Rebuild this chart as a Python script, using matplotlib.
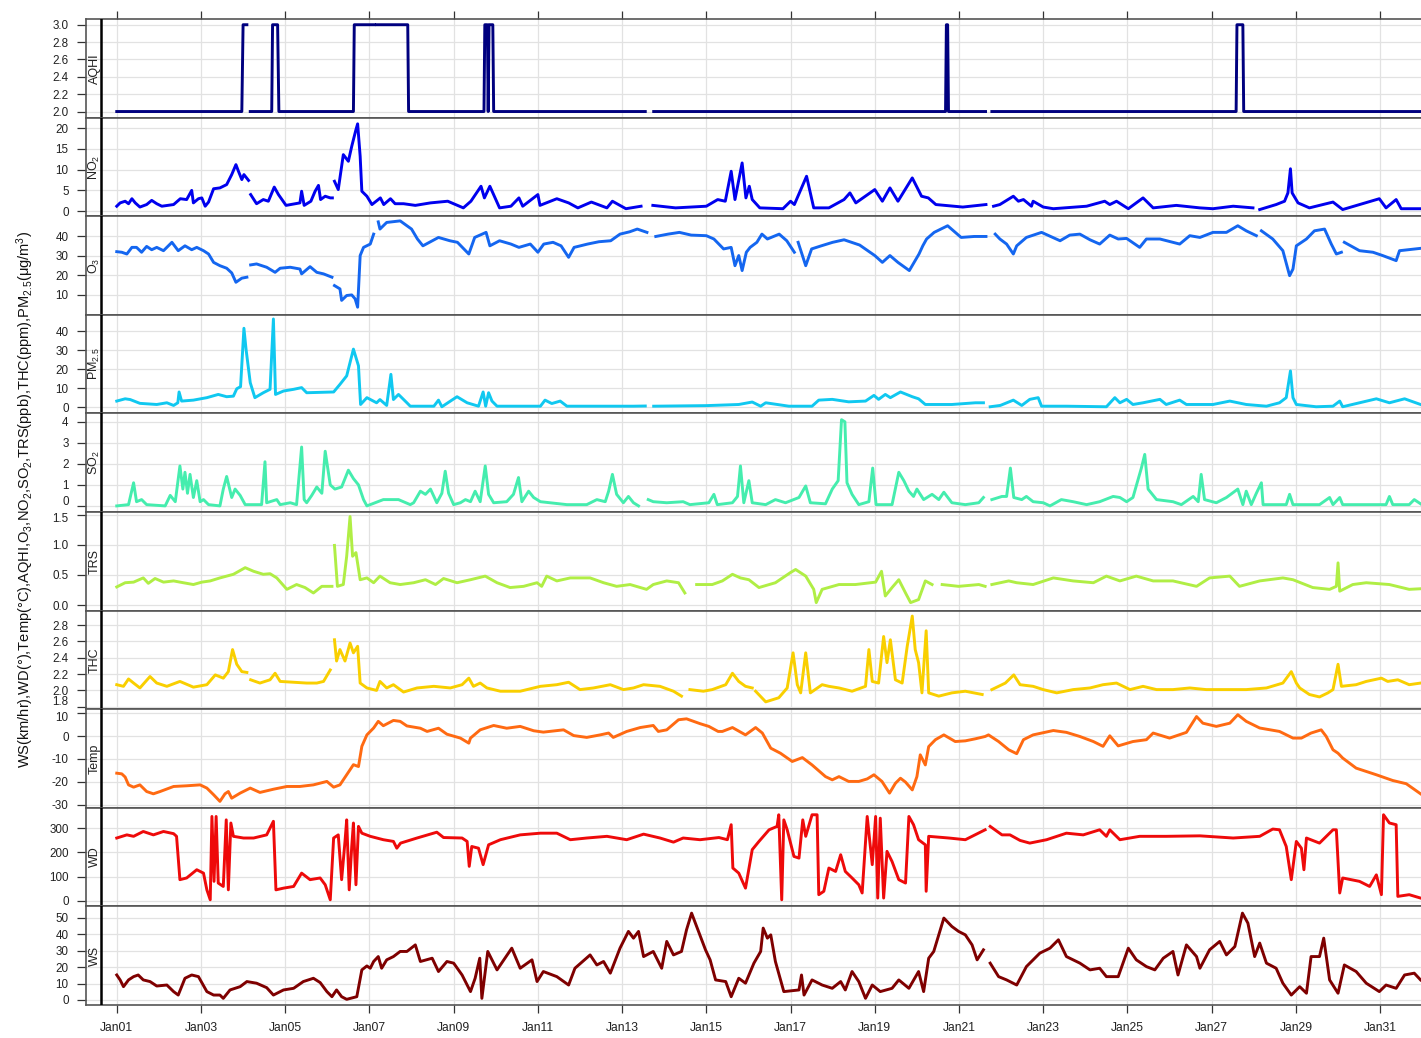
import numpy as np
import matplotlib as mpl
mpl.use('Agg')
import matplotlib.pyplot as plt
from matplotlib.transforms import ScaledTranslation

plt.rcParams['font.family'] = ['Liberation Sans', 'DejaVu Sans']
plt.rcParams['mathtext.default'] = 'regular'

# readings as (day of January, value); None = missing hours
aqhi = [(1.0, 2), (3.97, 2), (4.0, 3), (4.09, 3), (4.13, None), (4.17, 2), (4.68, 2), (4.70, 3),
        (4.82, 3), (4.85, 2), (6.62, 2), (6.64, 3), (7.12, 3), (7.15, None), (7.18, 3), (7.91, 3),
        (7.93, 2), (9.72, 2), (9.74, 3), (9.80, 3), (9.82, 2), (9.84, 3), (9.93, 3), (9.95, 2),
        (13.55, 2), (13.65, None), (13.75, 2), (20.68, 2), (20.70, 3), (20.73, 3), (20.75, 2),
        (21.63, 2), (21.70, None), (21.78, 2), (27.58, 2), (27.60, 3), (27.74, 3), (27.76, 2),
        (31.97, 2)]

no2 = [(1.0, 1.2), (1.08, 2), (1.2, 2.4), (1.28, 1.8), (1.36, 3), (1.44, 2), (1.55, 1), (1.71, 1.6),
       (1.83, 2.6), (1.95, 1.8), (2.07, 1.2), (2.35, 1.6), (2.51, 3), (2.66, 2.8), (2.78, 5), (2.82, 2),
       (2.94, 3), (3.02, 3.2), (3.10, 1.2), (3.18, 2.2), (3.30, 5.4), (3.45, 5.6), (3.61, 6.4),
       (3.73, 8.8), (3.83, 11.2), (3.89, 9.6), (3.97, 7.6), (4.02, 8.8), (4.13, 7.4), (4.15, None),
       (4.18, 4), (4.32, 1.8), (4.48, 2.8), (4.60, 2.4), (4.74, 5.8), (4.84, 4), (5.02, 1.4),
       (5.24, 1.8), (5.35, 2), (5.39, 4.8), (5.45, 1.4), (5.61, 2.4), (5.71, 4.8), (5.79, 6.2),
       (5.84, 2.8), (5.95, 3.6), (6.07, 3.2), (6.12, 3.2), (6.14, None), (6.17, 7.2), (6.26, 5.2),
       (6.38, 13.6), (6.50, 12), (6.58, 15.6), (6.68, 19.6), (6.72, 21), (6.78, 13.2), (6.82, 4.8),
       (6.94, 3.6), (7.06, 1.6), (7.26, 3.2), (7.34, 1.6), (7.50, 3), (7.61, 1.8), (7.81, 1.8),
       (8.09, 1.4), (8.45, 2), (8.86, 2.4), (9.0, 1.8), (9.23, 0.8), (9.41, 2.4), (9.65, 6),
       (9.73, 3.2), (9.86, 6), (10.09, 0.8), (10.36, 1.2), (10.55, 3.2), (10.64, 1.2), (11.0, 4),
       (11.05, 1.4), (11.45, 3), (11.73, 2), (11.95, 0.8), (12.27, 2.2), (12.64, 0.8), (12.77, 2.4),
       (13.09, 0.6), (13.45, 1.2), (13.6, None), (13.73, 1.4), (14.27, 0.8), (15.0, 1.2),
       (15.27, 2.8), (15.45, 2.4), (15.59, 9.6), (15.68, 2.8), (15.85, 11.6), (15.94, 3.2),
       (16.02, 6), (16.09, 2.8), (16.27, 0.8), (16.82, 0.6), (17.0, 2.4), (17.09, 1.6), (17.38, 8.4),
       (17.55, 0.8), (17.91, 0.8), (18.27, 2.8), (18.41, 4.4), (18.55, 2), (19.0, 5.2), (19.18, 2.4),
       (19.36, 5.6), (19.55, 2.4), (19.89, 8), (20.11, 3.6), (20.27, 3.2), (20.45, 1.6), (21.09, 1),
       (21.64, 1.6), (21.72, None), (21.82, 1.2), (21.97, 1.6), (22.29, 3.6), (22.41, 2.4),
       (22.53, 2.8), (22.72, 1.2), (22.76, 2.4), (23.0, 1), (23.24, 0.6), (24.03, 1.2), (24.46, 2.4),
       (24.58, 1.6), (24.74, 2.4), (25.02, 0.6), (25.37, 3.2), (25.61, 0.8), (26.16, 1.4),
       (26.72, 0.8), (27.03, 0.6), (27.51, 1.2), (27.98, 0.8), (28.06, None), (28.14, 0.4),
       (28.53, 1.6), (28.73, 2.4), (28.81, 4.4), (28.87, 10.2), (28.91, 4.4), (29.05, 2),
       (29.32, 0.8), (29.88, 2.2), (30.11, 0.4), (30.51, 1.6), (30.98, 3), (31.14, 0.8), (31.38, 2.8),
       (31.5, 0.6), (31.96, 0.6)]

o3 = [(1.0, 32), (1.12, 31.7), (1.24, 30.8), (1.36, 34.2), (1.47, 34.2), (1.59, 31.7), (1.71, 34.7),
      (1.83, 33), (1.95, 34.2), (2.11, 32.5), (2.31, 36.8), (2.46, 32.5), (2.62, 35), (2.78, 33),
      (2.90, 34.2), (3.06, 32.5), (3.18, 30.8), (3.30, 26.5), (3.45, 24.8), (3.61, 23.5), (3.73, 21.1),
      (3.83, 16.3), (3.97, 18.4), (4.09, 18.9), (4.14, None), (4.18, 25.2), (4.32, 25.7), (4.56, 24),
      (4.76, 21.4), (4.88, 23.5), (5.12, 24), (5.35, 23.1), (5.39, 20.6), (5.59, 24.3), (5.75, 21.4),
      (5.91, 20.6), (6.11, 18.9), (6.14, None), (6.17, 14.6), (6.30, 12.9), (6.34, 7), (6.46, 9.5),
      (6.58, 9.8), (6.66, 7.8), (6.72, 3.5), (6.78, 30), (6.86, 34.2), (7.02, 35.9), (7.10, 41),
      (7.15, None), (7.21, 47.3), (7.25, 43.6), (7.41, 47), (7.73, 47.8), (8.0, 43.6), (8.14, 38.5),
      (8.27, 35), (8.64, 39.3), (8.91, 37.6), (9.09, 36.8), (9.36, 30.8), (9.5, 39.3), (9.77, 41.9),
      (9.86, 35), (10.09, 37.6), (10.36, 35.9), (10.55, 34.2), (10.82, 35.9), (11.0, 31.7),
      (11.14, 35.9), (11.36, 36.8), (11.55, 35), (11.73, 29.1), (11.86, 34.2), (12.18, 35.9),
      (12.45, 37.1), (12.73, 37.6), (12.95, 41), (13.18, 42.2), (13.36, 43.6), (13.59, 41.9),
      (13.7, None), (13.8, 39.8), (14.09, 41), (14.36, 41.9), (14.64, 40.5), (15.0, 40.2),
      (15.18, 38.5), (15.41, 33.4), (15.59, 34.2), (15.68, 24.8), (15.77, 30), (15.85, 22.3),
      (15.95, 31.7), (16.04, 34.2), (16.2, 36.8), (16.32, 41), (16.45, 38.5), (16.73, 41),
      (16.91, 37.6), (17.09, 31.7), (17.13, None), (17.18, 36.8), (17.36, 24.8), (17.5, 33.4),
      (17.73, 35), (18.0, 36.8), (18.27, 38.1), (18.64, 35.4), (19.0, 30), (19.18, 26.5), (19.36, 30),
      (19.55, 26.5), (19.82, 22.3), (20.05, 30.8), (20.14, 35), (20.23, 38.5), (20.41, 41.9),
      (20.73, 45.3), (21.05, 39.3), (21.36, 39.8), (21.64, 39.8), (21.75, None), (21.86, 41),
      (21.97, 38.5), (22.13, 35.9), (22.29, 30.8), (22.37, 35), (22.6, 39.3), (22.96, 41.9),
      (23.4, 37.6), (23.63, 40.5), (23.87, 41), (24.11, 38.1), (24.34, 35.9), (24.58, 40.5),
      (24.78, 38.5), (24.98, 38.8), (25.29, 34.2), (25.45, 38.5), (25.77, 38.5), (26.24, 35.9),
      (26.48, 40.2), (26.72, 39.3), (27.03, 41.9), (27.35, 41.9), (27.62, 45.3), (27.82, 42.7),
      (28.06, 40.2), (28.12, None), (28.18, 42.7), (28.45, 38.5), (28.69, 32.5), (28.85, 19.7),
      (28.93, 23.1), (29.01, 35), (29.25, 38.5), (29.44, 42.7), (29.68, 43.6), (29.84, 35.9),
      (29.96, 30.8), (30.08, 31.7), (30.11, None), (30.15, 36.8), (30.51, 32.5), (30.83, 31.7),
      (31.06, 30), (31.38, 27.4), (31.46, 32.5), (31.96, 33.7)]

pm25 = [(1.0, 3.2), (1.2, 4.4), (1.32, 4), (1.55, 2), (1.95, 1.4), (2.19, 2.3), (2.35, 0.9),
        (2.45, 2.3), (2.48, 8), (2.54, 3.2), (2.82, 3.7), (3.14, 5), (3.41, 6.7), (3.61, 5.5),
        (3.77, 5.8), (3.85, 9.7), (3.94, 10.8), (4.02, 41.6), (4.07, 30.6), (4.17, 12.9), (4.28, 5),
        (4.48, 7.6), (4.64, 9.4), (4.72, 46.5), (4.77, 6.7), (4.96, 8.5), (5.2, 9.4), (5.39, 10.3),
        (5.51, 7.6), (6.15, 8), (6.3, 12), (6.46, 16.5), (6.62, 30.6), (6.74, 21.8), (6.79, 1.4),
        (6.94, 5), (7.17, 2.3), (7.25, 4), (7.41, 0.9), (7.51, 17.3), (7.57, 4), (7.69, 6.7),
        (7.89, 2.3), (7.97, 0.5), (8.53, 0.5), (8.64, 3.7), (8.72, 0.2), (9.08, 5.5), (9.32, 2.3),
        (9.59, 0.5), (9.70, 8), (9.76, 0.5), (9.83, 7.6), (9.91, 3.2), (10.03, 0.5), (11.06, 0.5),
        (11.17, 3.7), (11.33, 1.9), (11.53, 3.2), (11.69, 0.5), (13.27, 0.5), (13.55, 0.6),
        (13.65, None), (13.75, 0.5), (15.0, 0.8), (15.77, 1.4), (16.09, 2.7), (16.29, 0.5),
        (16.41, 2.3), (16.96, 0.5), (17.51, 0.5), (17.67, 3.7), (17.99, 4.1), (18.38, 2.8),
        (18.78, 3.2), (18.98, 6.2), (19.09, 4.1), (19.25, 6.7), (19.37, 5), (19.61, 8), (19.89, 5.5),
        (20.04, 4.4), (20.2, 1.4), (20.83, 1.4), (21.39, 2.3), (21.58, 2.3), (21.66, None),
        (21.74, 0.2), (21.98, 0.9), (22.29, 3.7), (22.49, 0.9), (22.68, 4.1), (22.88, 5), (22.96, 0.5),
        (23.55, 0.5), (24.5, 0.2), (24.7, 5), (24.82, 2.3), (24.98, 4.1), (25.13, 1.4), (25.37, 2.3),
        (25.77, 4.1), (25.92, 1.4), (26.24, 3.7), (26.4, 1.4), (27.03, 1.4), (27.43, 3.2),
        (27.82, 1.4), (28.3, 0.5), (28.61, 2.3), (28.77, 5), (28.87, 19.1), (28.93, 5), (29.01, 1.4),
        (29.48, 0.2), (29.88, 0.5), (30.04, 3.2), (30.11, 0.2), (30.51, 2.3), (30.91, 4.4),
        (31.22, 2.3), (31.58, 4.4), (31.96, 1.4)]

so2 = [(1.0, 0), (1.28, 0.06), (1.40, 1.1), (1.47, 0.2), (1.59, 0.3), (1.71, 0.06), (2.15, 0),
       (2.27, 0.5), (2.39, 0.2), (2.5, 1.9), (2.57, 0.8), (2.62, 1.6), (2.68, 0.6), (2.74, 1.5),
       (2.82, 0.4), (2.9, 1.2), (2.98, 0.2), (3.06, 0.3), (3.18, 0.06), (3.45, 0), (3.53, 0.8),
       (3.61, 1.4), (3.73, 0.4), (3.81, 0.8), (3.93, 0.5), (4.05, 0.06), (4.44, 0.06), (4.52, 2.1),
       (4.56, 0.15), (4.8, 0.3), (4.88, 0.06), (5.12, 0.15), (5.27, 0.06), (5.39, 2.8), (5.45, 0.3),
       (5.51, 0.15), (5.63, 0.5), (5.75, 0.9), (5.87, 0.6), (5.95, 2.6), (6.07, 1.0), (6.18, 0.8),
       (6.34, 0.9), (6.5, 1.7), (6.62, 1.3), (6.74, 1.0), (6.86, 0.3), (6.94, 0), (7.33, 0.3),
       (7.49, 0.3), (7.69, 0.3), (7.97, 0.06), (8.05, 0.15), (8.21, 0.7), (8.33, 0.55), (8.45, 0.8),
       (8.6, 0.15), (8.72, 0.6), (8.8, 1.65), (8.88, 0.6), (9.0, 0.06), (9.16, 0.15), (9.28, 0.3),
       (9.4, 0.2), (9.51, 0.7), (9.63, 0.2), (9.75, 1.9), (9.83, 0.55), (9.95, 0.15), (10.26, 0.2),
       (10.42, 0.55), (10.54, 1.35), (10.62, 0.2), (10.78, 0.7), (10.9, 0.4), (11.06, 0.2),
       (11.69, 0.06), (12.16, 0.06), (12.4, 0.3), (12.6, 0.2), (12.68, 0.7), (12.77, 1.5),
       (12.87, 0.55), (13.03, 0.15), (13.15, 0.45), (13.27, 0.15), (13.39, 0), (13.5, None),
       (13.62, 0.3), (13.74, 0.2), (14.06, 0.15), (14.45, 0.2), (14.61, 0.06), (15.06, 0.15),
       (15.18, 0.55), (15.26, 0.06), (15.62, 0.15), (15.74, 0.45), (15.81, 1.9), (15.89, 0.15),
       (16.01, 1.2), (16.09, 0.15), (16.41, 0.06), (16.64, 0.3), (16.88, 0.15), (17.2, 0.4),
       (17.36, 0.95), (17.47, 0.15), (17.83, 0.1), (17.99, 0.8), (18.13, 1.2), (18.21, 4.1),
       (18.29, 4.0), (18.34, 1.1), (18.46, 0.55), (18.62, 0.06), (18.86, 0.2), (18.95, 1.8),
       (19.03, 0.06), (19.41, 0.06), (19.57, 1.6), (19.69, 1.2), (19.81, 0.7), (19.92, 0.45),
       (20.0, 0.8), (20.16, 0.3), (20.36, 0.55), (20.52, 0.3), (20.64, 0.65), (20.83, 0.15),
       (21.15, 0.06), (21.47, 0.15), (21.58, 0.4), (21.68, None), (21.78, 0.3), (22.02, 0.45),
       (22.13, 0.45), (22.22, 1.8), (22.3, 0.4), (22.49, 0.3), (22.6, 0.45), (22.76, 0.2),
       (23.0, 0.15), (23.16, 0), (23.43, 0.3), (23.71, 0.2), (24.03, 0.06), (24.34, 0.2),
       (24.66, 0.45), (24.82, 0.4), (24.98, 0.2), (25.13, 0.4), (25.33, 1.8), (25.41, 2.45),
       (25.49, 0.8), (25.69, 0.3), (26.08, 0.2), (26.28, 0.06), (26.56, 0.45), (26.68, 0.2),
       (26.75, 1.5), (26.83, 0.3), (27.11, 0.15), (27.35, 0.4), (27.62, 0.8), (27.74, 0.06),
       (27.82, 0.7), (27.94, 0.06), (28.06, 0.6), (28.18, 1.1), (28.22, 0.06), (28.77, 0.06),
       (28.85, 0.55), (28.93, 0.06), (29.56, 0.06), (29.8, 0.4), (29.88, 0.06), (30.04, 0.4),
       (30.11, 0.06), (31.14, 0.06), (31.22, 0.45), (31.3, 0.06), (31.69, 0.06), (31.81, 0.3),
       (31.96, 0.1)]

trs = [(1.0, 0.30), (1.2, 0.37), (1.4, 0.38), (1.63, 0.45), (1.75, 0.36), (1.91, 0.44), (2.11, 0.38),
       (2.35, 0.40), (2.58, 0.37), (2.82, 0.34), (3.02, 0.38), (3.22, 0.40), (3.45, 0.45),
       (3.77, 0.51), (4.05, 0.62), (4.25, 0.56), (4.48, 0.51), (4.64, 0.52), (4.8, 0.45), (5.04, 0.26),
       (5.27, 0.34), (5.47, 0.29), (5.67, 0.2), (5.87, 0.31), (6.11, 0.31), (6.14, None), (6.17, 0.99),
       (6.24, 0.31), (6.38, 0.34), (6.46, 0.81), (6.54, 1.47), (6.6, 0.81), (6.68, 0.87), (6.78, 0.42),
       (6.94, 0.45), (7.1, 0.37), (7.25, 0.48), (7.49, 0.37), (7.73, 0.34), (8.05, 0.37), (8.33, 0.42),
       (8.57, 0.34), (8.76, 0.44), (9.08, 0.37), (9.4, 0.42), (9.75, 0.48), (10.03, 0.37),
       (10.34, 0.29), (10.66, 0.31), (10.98, 0.37), (11.09, 0.31), (11.21, 0.48), (11.45, 0.4),
       (11.77, 0.45), (12.24, 0.45), (12.56, 0.37), (12.87, 0.31), (13.19, 0.34), (13.58, 0.26),
       (13.74, 0.34), (14.06, 0.4), (14.34, 0.37), (14.49, 0.2), (14.6, None), (14.77, 0.34),
       (15.14, 0.34), (15.38, 0.4), (15.62, 0.51), (15.81, 0.45), (16.01, 0.42), (16.25, 0.29),
       (16.64, 0.37), (17.0, 0.54), (17.12, 0.59), (17.36, 0.48), (17.55, 0.26), (17.61, 0.04),
       (17.75, 0.26), (18.15, 0.34), (18.54, 0.34), (19.02, 0.38), (19.16, 0.56), (19.25, 0.15),
       (19.41, 0.29), (19.57, 0.42), (19.73, 0.2), (19.85, 0.04), (20.04, 0.09), (20.2, 0.4),
       (20.36, 0.34), (20.48, None), (20.6, 0.34), (20.99, 0.31), (21.47, 0.34), (21.62, 0.31),
       (21.7, None), (21.78, 0.34), (22.18, 0.4), (22.37, 0.37), (22.76, 0.34), (23.24, 0.45),
       (23.71, 0.4), (24.19, 0.37), (24.5, 0.48), (24.82, 0.4), (25.21, 0.48), (25.61, 0.4),
       (26.08, 0.4), (26.64, 0.31), (26.95, 0.45), (27.43, 0.48), (27.66, 0.31), (28.14, 0.4),
       (28.69, 0.45), (28.93, 0.42), (29.4, 0.29), (29.8, 0.26), (29.96, 0.31), (30.0, 0.7),
       (30.04, 0.23), (30.35, 0.34), (30.67, 0.37), (31.22, 0.34), (31.69, 0.26), (31.96, 0.27)]

thc = [(1.0, 2.07), (1.16, 2.05), (1.28, 2.14), (1.4, 2.09), (1.55, 2.03), (1.79, 2.17), (1.95, 2.09),
       (2.19, 2.05), (2.5, 2.11), (2.82, 2.04), (3.14, 2.07), (3.34, 2.19), (3.53, 2.15), (3.65, 2.23),
       (3.75, 2.5), (3.85, 2.32), (3.97, 2.23), (4.09, 2.22), (4.14, None), (4.18, 2.13), (4.4, 2.09),
       (4.64, 2.13), (4.76, 2.21), (4.88, 2.11), (5.2, 2.1), (5.51, 2.09), (5.75, 2.09), (5.91, 2.11),
       (6.07, 2.25), (6.12, None), (6.17, 2.62), (6.22, 2.36), (6.3, 2.5), (6.42, 2.36), (6.54, 2.58),
       (6.62, 2.46), (6.72, 2.54), (6.78, 2.09), (6.94, 2.03), (7.17, 2.0), (7.25, 2.11), (7.41, 2.03),
       (7.57, 2.07), (7.81, 1.98), (8.13, 2.03), (8.53, 2.05), (8.92, 2.03), (9.2, 2.07), (9.36, 2.15),
       (9.47, 2.05), (9.63, 2.09), (9.79, 2.03), (10.11, 1.99), (10.58, 1.99), (11.06, 2.05),
       (11.45, 2.07), (11.73, 2.1), (12.0, 2.01), (12.32, 2.03), (12.72, 2.07), (13.03, 2.01),
       (13.27, 2.03), (13.51, 2.07), (13.9, 2.05), (14.22, 1.99), (14.41, 1.93), (14.5, None),
       (14.61, 2.01), (14.93, 1.99), (15.14, 2.01), (15.46, 2.07), (15.62, 2.21), (15.77, 2.11),
       (15.93, 2.05), (16.09, 2.03), (16.13, None), (16.17, 1.99), (16.41, 1.86), (16.72, 1.91),
       (16.92, 2.03), (17.06, 2.46), (17.16, 2.07), (17.24, 1.97), (17.36, 2.46), (17.47, 1.97),
       (17.75, 2.07), (17.91, 2.05), (18.15, 2.03), (18.46, 1.99), (18.78, 2.05), (18.86, 2.5),
       (18.94, 2.11), (19.09, 2.09), (19.21, 2.66), (19.29, 2.34), (19.37, 2.62), (19.49, 2.13),
       (19.65, 2.09), (19.77, 2.54), (19.89, 2.91), (19.96, 2.5), (20.04, 2.34), (20.12, 1.97),
       (20.22, 2.73), (20.28, 1.97), (20.52, 1.93), (20.83, 1.97), (21.15, 1.99), (21.55, 1.95),
       (21.66, None), (21.78, 2.01), (22.1, 2.09), (22.3, 2.19), (22.45, 2.07), (22.76, 2.05),
       (23.0, 2.01), (23.32, 1.97), (23.71, 2.01), (24.11, 2.03), (24.42, 2.07), (24.74, 2.09),
       (25.06, 2.01), (25.37, 2.05), (25.69, 2.01), (26.08, 2.01), (26.48, 2.03), (26.87, 2.01),
       (27.35, 2.01), (27.82, 2.01), (28.3, 2.03), (28.69, 2.09), (28.89, 2.23), (29.01, 2.09),
       (29.09, 2.03), (29.32, 1.95), (29.56, 1.92), (29.76, 1.97), (29.88, 2.01), (30.0, 2.32),
       (30.08, 2.05), (30.43, 2.07), (30.67, 2.11), (31.03, 2.15), (31.18, 2.11), (31.42, 2.13),
       (31.69, 2.07), (31.96, 2.09)]

temp = [(1.0, -16.2), (1.12, -16.5), (1.2, -17.9), (1.28, -21.3), (1.4, -22.3), (1.55, -21.3),
        (1.71, -24.2), (1.87, -25.2), (2.03, -24.2), (2.35, -22), (2.66, -21.7), (2.98, -21.3),
        (3.14, -22.7), (3.3, -25.6), (3.45, -28.5), (3.57, -25.2), (3.65, -24.2), (3.73, -27.1),
        (3.93, -24.9), (4.17, -22.7), (4.4, -24.6), (4.72, -23.2), (5.04, -22), (5.35, -22),
        (5.67, -21.3), (5.99, -19.8), (6.15, -22.3), (6.3, -21.3), (6.46, -16.9), (6.62, -12.5),
        (6.74, -13.3), (6.82, -4.5), (6.94, 0.5), (7.1, 3.5), (7.21, 6.4), (7.33, 4.5), (7.57, 6.8),
        (7.73, 6.4), (7.89, 4.4), (8.21, 3.4), (8.37, 2), (8.64, 3.4), (8.84, 0.8), (9.16, -0.9),
        (9.36, -3.1), (9.4, -0.9), (9.63, 2.7), (9.95, 4.6), (10.26, 3.4), (10.58, 4.2), (10.9, 2.3),
        (11.13, 1.7), (11.61, 2.7), (11.85, 0.2), (12.16, -0.6), (12.48, 0.5), (12.68, 1.3),
        (12.79, -0.6), (13.11, 2), (13.43, 3.7), (13.74, 4.6), (13.86, 2), (14.06, 2.7), (14.34, 7.1),
        (14.53, 7.5), (14.85, 5.4), (15.06, 4.2), (15.28, 2), (15.38, 2), (15.62, 3.7), (15.93, 0.5),
        (16.17, 3.7), (16.33, 1.3), (16.53, -5.3), (16.76, -7.5), (17.04, -11.1), (17.28, -9.4),
        (17.51, -12.6), (17.83, -17.7), (17.99, -19.1), (18.15, -17.7), (18.38, -19.8), (18.62, -19.8),
        (18.82, -18.7), (18.98, -16.9), (19.17, -19.8), (19.35, -24.9), (19.49, -20.6), (19.61, -18.4),
        (19.73, -20.1), (19.89, -23.5), (20.0, -17.7), (20.08, -8.2), (20.2, -12.6), (20.28, -4.6),
        (20.44, -1.6), (20.64, 0.5), (20.91, -2.4), (21.15, -2.1), (21.39, -1.2), (21.62, -0.2),
        (21.7, 0.5), (21.94, -2.4), (22.18, -6), (22.37, -7.7), (22.53, -1.6), (22.76, 0.5),
        (23.24, 2.4), (23.55, 1.6), (23.87, -0.2), (24.19, -2.4), (24.42, -4.5), (24.58, 0.1),
        (24.78, -4.3), (25.13, -2.4), (25.45, -1.6), (25.61, 1.3), (26.0, -0.9), (26.4, 1.6),
        (26.64, 8.5), (26.79, 5.6), (27.11, 4.2), (27.43, 5.6), (27.62, 9.3), (27.82, 6.4),
        (28.14, 3.5), (28.61, 2), (28.93, -0.9), (29.13, -0.9), (29.36, 1.3), (29.6, 2.7),
        (29.72, -0.2), (29.88, -6), (30.0, -7.5), (30.11, -9.6), (30.43, -14), (30.91, -16.9),
        (31.3, -19.4), (31.62, -20.8), (31.96, -25.2)]

wd = [(1.0, 259), (1.24, 272), (1.4, 266), (1.63, 286), (1.87, 272), (2.11, 286), (2.35, 277),
      (2.42, 266), (2.5, 87), (2.66, 94), (2.9, 128), (3.06, 114), (3.14, 45), (3.22, 4), (3.26, 348),
      (3.31, 80), (3.36, 348), (3.41, 73), (3.53, 59), (3.6, 334), (3.65, 45), (3.71, 321), (3.77, 266),
      (4.01, 259), (4.25, 259), (4.56, 272), (4.72, 328), (4.78, 45), (4.96, 52), (5.2, 59),
      (5.39, 114), (5.59, 87), (5.83, 94), (5.95, 66), (6.07, 4), (6.15, 259), (6.26, 272), (6.34, 87),
      (6.42, 245), (6.46, 334), (6.52, 45), (6.58, 224), (6.62, 321), (6.68, 66), (6.74, 307),
      (6.82, 279), (7.02, 266), (7.33, 252), (7.57, 245), (7.65, 217), (7.74, 238), (8.13, 259),
      (8.6, 283), (8.76, 261), (9.2, 259), (9.32, 245), (9.37, 142), (9.43, 224), (9.59, 217),
      (9.7, 149), (9.83, 231), (10.11, 252), (10.58, 272), (11.06, 279), (11.45, 279), (11.77, 252),
      (12.16, 259), (12.64, 266), (13.11, 252), (13.51, 275), (13.9, 259), (14.22, 242), (14.45, 259),
      (14.85, 252), (15.3, 261), (15.5, 252), (15.59, 314), (15.63, 135), (15.77, 114), (15.93, 52),
      (16.09, 211), (16.25, 245), (16.49, 293), (16.68, 307), (16.72, 355), (16.79, 4), (16.84, 334),
      (16.92, 293), (17.08, 183), (17.2, 176), (17.29, 334), (17.36, 266), (17.51, 355), (17.63, 355),
      (17.67, 25), (17.79, 39), (17.91, 135), (18.07, 121), (18.19, 190), (18.3, 121), (18.46, 94),
      (18.62, 66), (18.7, 32), (18.82, 348), (18.94, 149), (19.02, 348), (19.07, 11), (19.13, 341),
      (19.21, 11), (19.29, 204), (19.41, 162), (19.57, 87), (19.73, 73), (19.81, 348), (19.92, 314),
      (20.04, 252), (20.2, 231), (20.22, 39), (20.28, 266), (20.76, 259), (21.15, 252), (21.62, 293),
      (21.68, None), (21.74, 307), (22.02, 272), (22.21, 272), (22.45, 249), (22.68, 238),
      (23.08, 252), (23.55, 279), (23.95, 272), (24.34, 293), (24.5, 266), (24.58, 293), (24.82, 252),
      (25.29, 266), (25.92, 266), (26.72, 268), (27.51, 259), (28.14, 266), (28.45, 296), (28.61, 293),
      (28.77, 224), (28.89, 87), (29.01, 245), (29.13, 217), (29.19, 128), (29.25, 259), (29.56, 238),
      (29.88, 293), (29.96, 293), (30.04, 32), (30.11, 94), (30.51, 80), (30.75, 59), (30.91, 107),
      (31.03, 25), (31.08, 355), (31.22, 321), (31.38, 314), (31.42, 18), (31.69, 25), (31.96, 11)]

ws = [(1.0, 15.2), (1.08, 12.2), (1.16, 8.1), (1.28, 12.2), (1.4, 14.2), (1.51, 15.2), (1.63, 12.2),
      (1.79, 11.2), (1.95, 8.5), (2.19, 9.1), (2.35, 5.1), (2.46, 3), (2.62, 13.2), (2.78, 15.2),
      (2.94, 14.2), (3.14, 5.1), (3.3, 3), (3.45, 3), (3.53, 1), (3.69, 6.1), (3.93, 8.1), (4.09, 11.2),
      (4.32, 10.2), (4.56, 7.5), (4.72, 3), (4.96, 6.1), (5.2, 7.1), (5.43, 11.2), (5.67, 13.2),
      (5.83, 10.6), (5.99, 5.1), (6.11, 2), (6.22, 6.1), (6.34, 2), (6.46, 0.4), (6.7, 2), (6.82, 18.3),
      (6.94, 20.7), (7.02, 19.3), (7.1, 23.4), (7.21, 26.4), (7.29, 19.3), (7.41, 24.4), (7.57, 26.4),
      (7.73, 29.5), (7.89, 29.5), (8.09, 33.5), (8.21, 23.4), (8.49, 25.4), (8.64, 17.3), (8.84, 23.4),
      (9.0, 22.4), (9.2, 15.2), (9.4, 5.1), (9.51, 13.2), (9.62, 25.4), (9.67, 1), (9.81, 29.5),
      (10.03, 18.3), (10.38, 31.5), (10.58, 19.3), (10.86, 24.4), (10.98, 11.2), (11.13, 17.3),
      (11.45, 14.2), (11.73, 9.1), (11.88, 19.3), (12.24, 27.4), (12.4, 21.3), (12.56, 23.4),
      (12.72, 16.3), (12.95, 31.5), (13.15, 41.7), (13.27, 37.6), (13.39, 41.7), (13.51, 26.4),
      (13.74, 29.5), (13.94, 19.3), (14.06, 35.6), (14.22, 27.4), (14.41, 29.5), (14.53, 42.7),
      (14.65, 52.8), (14.77, 44.7), (14.89, 36.6), (14.98, 30.5), (15.09, 24.4), (15.22, 12.2),
      (15.46, 11.2), (15.59, 2), (15.77, 13.2), (15.93, 10.2), (16.13, 22.4), (16.29, 29.5),
      (16.35, 43.7), (16.45, 37.6), (16.53, 39.6), (16.64, 23.4), (16.84, 5.1), (17.2, 6.1),
      (17.26, 15.2), (17.32, 3), (17.51, 12.2), (17.75, 9.1), (17.99, 7.1), (18.19, 11.2), (18.3, 6.1),
      (18.46, 17.3), (18.62, 11.2), (18.78, 1), (18.94, 9.1), (19.13, 5.1), (19.41, 7.1), (19.57, 12.2),
      (19.81, 7.1), (20.04, 17.3), (20.16, 5.1), (20.28, 25.4), (20.4, 29.5), (20.64, 49.8),
      (20.83, 44.7), (20.99, 41.7), (21.15, 39.6), (21.31, 33.5), (21.43, 24.4), (21.58, 30.5),
      (21.66, None), (21.74, 22.4), (21.94, 14.2), (22.13, 12.2), (22.37, 9.1), (22.6, 20.3),
      (22.92, 28.5), (23.16, 31.5), (23.36, 36.6), (23.55, 26.4), (23.87, 22.4), (24.11, 18.3),
      (24.34, 19.3), (24.5, 14.2), (24.78, 14.2), (25.02, 31.5), (25.21, 24.4), (25.45, 20.3),
      (25.65, 18.3), (25.85, 25.4), (26.08, 29.5), (26.2, 15.2), (26.4, 33.5), (26.64, 26.4),
      (26.72, 19.3), (26.95, 30.5), (27.19, 35.6), (27.35, 27.4), (27.55, 32.5), (27.73, 52.8),
      (27.86, 46.7), (28.02, 26.4), (28.14, 34.6), (28.3, 22.4), (28.53, 19.3), (28.69, 10.2),
      (28.89, 3), (29.09, 8.1), (29.25, 4.1), (29.36, 26.4), (29.56, 26.4), (29.66, 37.6), (29.8, 12.2),
      (30.0, 4.1), (30.15, 21.3), (30.43, 17.3), (30.67, 10.2), (30.98, 5.1), (31.14, 9.1), (31.38, 7.1),
      (31.58, 15.2), (31.81, 16.3), (31.96, 12.2)]

names = ['AQHI', 'NO$_2$', 'O$_3$', 'PM$_{2.5}$', 'SO$_2$', 'TRS', 'THC', 'Temp', 'WD', 'WS']
series = [aqhi, no2, o3, pm25, so2, trs, thc, temp, wd, ws]
yticks = [[2.0, 2.2, 2.4, 2.6, 2.8, 3.0], [0, 5, 10, 15, 20], [10, 20, 30, 40], [0, 10, 20, 30, 40],
          [0, 1, 2, 3, 4], [0.0, 0.5, 1.0, 1.5], [1.8, 2.0, 2.2, 2.4, 2.6, 2.8], [-30, -20, -10, 0, 10],
          [0, 100, 200, 300], [0, 10, 20, 30, 40, 50]]
day_ticks = list(range(1, 32, 2))
day_labels = ['Jan%02d' % d for d in day_ticks]

# styling
colors = ['#00007F', '#0000EE', '#1466F0', '#10C8F0', '#45EDAE', '#B0EE45', '#F9CF00', '#FF6A12',
          '#EE0A0A', '#7F0000']
ylims = [(1.93, 3.066), (-1.2, 22.5), (-0.4, 50.2), (-3.3, 48.7), (-0.29, 4.4), (-0.093, 1.545),
         (1.77, 2.977), (-31.3, 11.7), (-23.4, 383.8), (-3.05, 56.9)]
fmt = ['%.1f', '%d', '%d', '%d', '%d', '%.1f', '%.1f', '%d', '%d', '%d']
# edge tick labels that crowd the neighbouring panel are drawn by hand, nudged (points)
nudge_low = [0, 0, 0, 0, 3.0, 0, 3.6, 0, 0, 0]
nudge_high = [0, 0, 0, 0, 0, -3.0, 0, -3.6, 0, 0]

W, H = 1421, 1038
fig = plt.figure(figsize=(W / 100, H / 100), dpi=100)
x0, top, ph = 86, 19, 98.6
xlim = (0.27, 31.97)
strip_x = 0.627
tick_len, tick_pad, tick_fs = 6.5, 6, 8.4

for i in range(len(series)):
    ax = fig.add_axes([x0 / W, 1 - (top + (i + 1) * ph) / H, 1 - x0 / W, ph / H])
    t = np.array([p[0] for p in series[i]], dtype=float)
    v = np.array([np.nan if p[1] is None else p[1] for p in series[i]], dtype=float)
    ax.plot(t, v, color=colors[i], lw=2.1, solid_joinstyle='round', zorder=3)
    ax.set_xlim(xlim)
    ax.set_ylim(ylims[i])
    ax.set_yticks(yticks[i])
    labels = [fmt[i] % y for y in yticks[i]]
    hand = []
    if nudge_low[i]:
        hand.append((0, nudge_low[i]))
    if nudge_high[i]:
        hand.append((len(labels) - 1, nudge_high[i]))
    shown = list(labels)
    for k, dy in hand:
        shown[k] = ''
        tr = ax.get_yaxis_transform() + ScaledTranslation(-(tick_len + tick_pad) / 72, dy / 72,
                                                          fig.dpi_scale_trans)
        ax.text(0, yticks[i][k], labels[k], transform=tr, ha='right', va='center',
                fontsize=tick_fs, color='#222222', clip_on=False)
    ax.set_yticklabels(shown)
    ax.set_xticks(day_ticks)
    ax.grid(True, color='#e2e2e2', lw=0.9)
    ax.set_axisbelow(True)
    ax.axvline(strip_x, color='black', lw=1.8, zorder=4)
    ax.text(0.0065, 0.5, names[i], transform=ax.transAxes, rotation=90, ha='center', va='center',
            fontsize=9, color='#222222')
    for s in ['top', 'bottom', 'left']:
        ax.spines[s].set_color('#555555')
        ax.spines[s].set_linewidth(1.2)
    ax.spines['right'].set_visible(False)
    ax.tick_params(axis='y', direction='out', length=tick_len, width=0.9, color='#333333',
                   labelsize=tick_fs, labelcolor='#222222', pad=tick_pad)
    if i == 0:
        ax.tick_params(axis='x', top=True, bottom=False, labelbottom=False, direction='out',
                       length=5.5, width=0.9, color='#333333')
    elif i == len(series) - 1:
        ax.set_xticklabels(day_labels)
        ax.tick_params(axis='x', bottom=True, direction='out', length=6, width=0.9,
                       color='#333333', labelsize=8.7, labelcolor='#222222', pad=6)
    else:
        ax.tick_params(axis='x', bottom=False, labelbottom=False)

fig.text(25 / W, 1 - 499 / H,
         'WS(km/hr),WD(\u00b0),Temp(\u00b0C),AQHI,O$_3$,NO$_2$,SO$_2$,TRS(ppb),THC(ppm),'
         'PM$_{2.5}$(\u03bcg/m$^3$)',
         rotation=90, ha='center', va='center', fontsize=10.5, color='#111111')

fig.savefig('out.png', dpi=100)
